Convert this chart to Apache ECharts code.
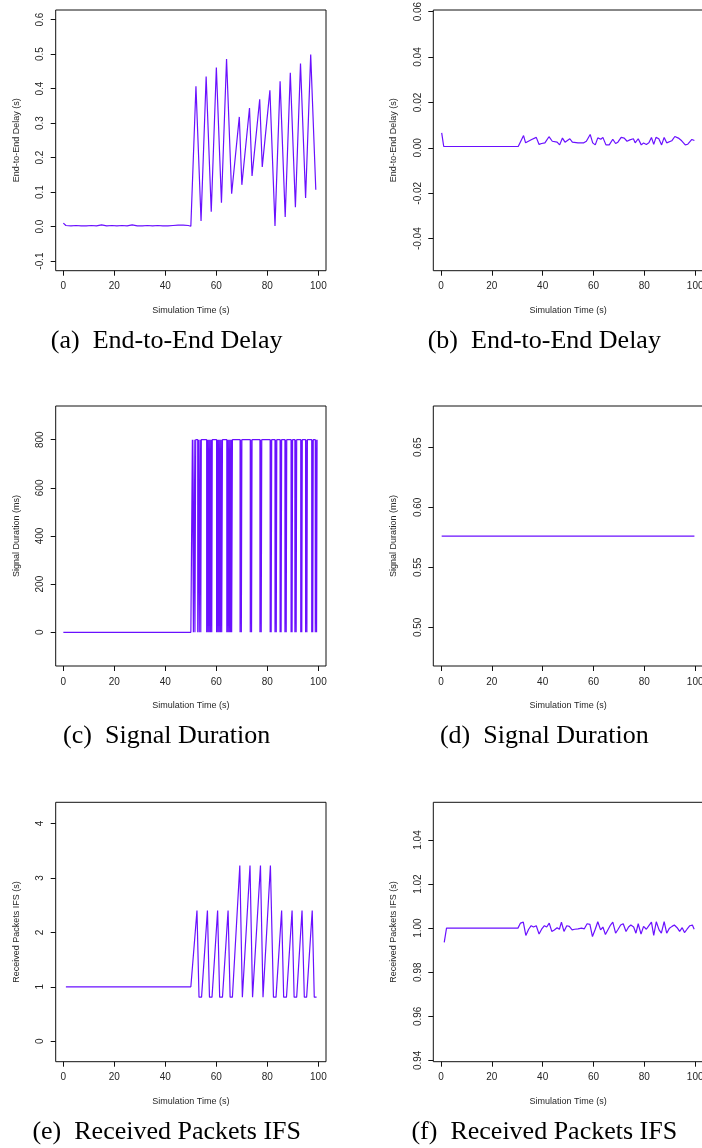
<!DOCTYPE html>
<html>
<head>
<meta charset="utf-8">
<script src="https://cdn.jsdelivr.net/npm/echarts@6/dist/echarts.min.js"></script>
<style>
  html, body { margin: 0; padding: 0; background: #ffffff; }
  #chart { width: 702px; height: 1148px; }
</style>
</head>
<body>
<div id="chart"></div>
<script>
// ---- data -------------------------------------------------------------
// shared x ticks (simulation time, s)
const timeTicks = [0, 20, 40, 60, 80, 100];
const timeTickLabels = ['0', '20', '40', '60', '80', '100'];

// (a) end-to-end delay, attacked run
const delayTimeA = [0, 1, 3, 5, 7, 9, 11, 13, 15, 17, 19, 21, 23, 25, 27, 29, 31, 33, 35, 37, 39, 41, 43, 45, 47, 49, 50,
  52, 54, 56, 58, 60, 62, 64, 66, 69, 70, 73, 74, 77, 78, 81, 83, 85, 87, 89, 91, 93, 95, 97, 99];
const delayA = [0.010, 0.003, 0.002, 0.003, 0.002, 0.002, 0.003, 0.002, 0.005, 0.002, 0.003, 0.002, 0.003, 0.002, 0.005, 0.002, 0.002, 0.003, 0.002, 0.003, 0.002, 0.002, 0.003, 0.004, 0.004, 0.003, 0.001,
  0.407, 0.016, 0.435, 0.043, 0.461, 0.069, 0.486, 0.095, 0.318, 0.121, 0.344, 0.147, 0.369, 0.173, 0.395, 0.002, 0.421, 0.028, 0.446, 0.056, 0.473, 0.083, 0.499, 0.107];
const delayTicksA = [-0.1, 0, 0.1, 0.2, 0.3, 0.4, 0.5, 0.6];
const delayTickLabelsA = ['-0.1', '0.0', '0.1', '0.2', '0.3', '0.4', '0.5', '0.6'];

// (b) end-to-end delay, protected run
const delayTimeB = [0.3, 1.1, 30.4, 32.5, 33.3, 35.7, 37.5, 38.6, 39.6, 40.9, 42.5, 43.8, 45.7, 46.7, 47.8, 48.8, 50.7, 51.7, 53.9, 56.2, 57.2, 58.7, 59.7,
  60.7, 61.7, 62.9, 63.7, 64.9, 66.2, 67.6, 68.7, 69.6, 70.9, 72.1, 73.2, 74.3, 75.7, 76.4, 77.6, 78.8, 79.7, 80.8, 81.8,
  82.8, 83.7, 84.6, 85.7, 86.8, 87.8, 88.8, 90.8, 92.0, 93.4, 94.7, 96.1, 97.1, 98.7, 99.7];
const delayB = [0.0066, 0.0006, 0.0006, 0.0054, 0.0022, 0.0037, 0.0046, 0.0015, 0.0019, 0.0022, 0.0049, 0.0029, 0.0025, 0.0013, 0.0043, 0.0025, 0.0040, 0.0025, 0.0022, 0.0022, 0.0029, 0.0059, 0.0022,
  0.0013, 0.0044, 0.0038, 0.0046, 0.0013, 0.0013, 0.0038, 0.0019, 0.0025, 0.0046, 0.0043, 0.0029, 0.0035, 0.0040, 0.0022, 0.0040, 0.0013, 0.0021, 0.0015, 0.0022,
  0.0046, 0.0015, 0.0046, 0.0040, 0.0013, 0.0046, 0.0022, 0.0031, 0.0050, 0.0043, 0.0031, 0.0013, 0.0016, 0.0037, 0.0032];
const delayTicksB = [-0.04, -0.02, 0, 0.02, 0.04, 0.06];
const delayTickLabelsB = ['-0.04', '-0.02', '0.00', '0.02', '0.04', '0.06'];

// (c) signal duration, attacked run: 800 ms bursts with short drop-outs to 0
const sigLeadTime = [0, 50.0, 50.6];
const sigLead = [0, 0, 800];
const sigDipStart = [51.0, 51.6, 52.7, 53.3, 53.9,
  56.2, 56.7, 57.2, 57.7, 58.2,
  60.1, 60.6, 61.1, 61.6, 62.1,
  64.1, 64.6, 65.1, 65.6, 66.0,
  69.3, 69.8, 73.3, 73.8, 77.1, 77.6,
  81.1, 81.5, 83.0, 83.5, 85.0, 85.4, 86.9, 87.4,
  89.3, 89.7, 90.8, 91.3, 93.1, 93.5, 95.0, 95.5,
  97.4, 97.8, 98.8, 99.3];
const sigDipEnd = [51.3, 51.9, 53.0, 53.6, 54.1,
  56.5, 57.0, 57.5, 58.0, 58.4,
  60.4, 60.9, 61.4, 61.9, 62.4,
  64.4, 64.9, 65.4, 65.9, 66.3,
  69.5, 70.0, 73.5, 74.0, 77.3, 77.8,
  81.3, 81.7, 83.2, 83.7, 85.2, 85.6, 87.1, 87.6,
  89.5, 89.9, 91.0, 91.5, 93.3, 93.7, 95.2, 95.7,
  97.6, 98.0, 99.0, 99.5];
const sigHigh = 800;
const sigLow = 0;
const sigTicksC = [0, 200, 400, 600, 800];
const sigTickLabelsC = ['0', '200', '400', '600', '800'];

// (d) signal duration, protected run
const sigTimeD = [0.3, 99.7];
const sigD = [0.576, 0.576];
const sigTicksD = [0.50, 0.55, 0.60, 0.65];
const sigTickLabelsD = ['0.50', '0.55', '0.60', '0.65'];

// (e) received packets inter-frame spacing, attacked run
const ifsTimeE = [1, 50, 52.4, 53.2, 54.2, 56.5, 57.3, 58.3, 60.5, 61.3, 62.4, 64.6, 65.4, 66.3, 69.2, 70.2, 73.2, 74.2, 77.3, 77.6, 78.3,
  81.2, 81.6, 82.4, 83.4, 85.6, 86.4, 87.5, 89.7, 90.5, 91.5, 93.6, 94.5, 95.4, 97.6, 98.4, 99.3];
const ifsE = [1, 1, 2.4, 0.81, 0.81, 2.4, 0.81, 0.81, 2.4, 0.81, 0.81, 2.4, 0.81, 0.81, 3.23, 0.81, 3.23, 0.81, 3.23, 3.23, 0.81,
  3.23, 3.23, 0.81, 0.81, 2.4, 0.81, 0.81, 2.4, 0.81, 0.81, 2.4, 0.81, 0.81, 2.4, 0.81, 0.81];
const ifsTicksE = [0, 1, 2, 3, 4];
const ifsTickLabelsE = ['0', '1', '2', '3', '4'];

// (f) received packets inter-frame spacing, protected run
const ifsTimeF = [1.3, 2.2, 30.3, 31.3, 32.4, 33.4, 34.5, 35.5, 36.4, 37.5, 38.6, 39.6, 40.7, 41.6, 42.6, 43.6, 44.6, 45.7, 46.6, 47.4, 48.4, 49.5, 50.5,
  51.6, 52.6, 53.9, 55.3, 56.4, 57.5, 58.6, 59.6, 60.7, 61.7, 62.8, 63.7, 64.7, 65.8, 66.7, 67.6, 68.7, 69.7, 70.7, 71.7,
  72.8, 73.8, 74.7, 75.8, 76.7, 77.6, 78.7, 79.7, 80.8, 81.8, 82.8, 83.7, 84.7, 85.8, 86.7, 87.8, 88.8, 89.9, 90.9, 91.8,
  92.9, 93.9, 94.9, 95.8, 96.8, 97.9, 98.9, 99.6];
const ifsF = [0.9935, 1.0, 1.0, 1.0023, 1.0027, 0.9967, 0.9995, 1.0011, 1.0005, 1.0011, 0.9973, 0.9995, 1.0011, 1.0005, 1.0023, 0.9985, 0.9992, 1.0002, 0.9995, 1.0027, 0.9985, 1.0011, 1.0008,
  0.9992, 0.9995, 0.9997, 1.0, 0.9997, 1.0020, 1.0017, 0.9962, 0.9995, 1.0029, 0.9992, 1.0005, 0.9971, 0.9995, 1.0014, 1.0027, 0.9977, 0.9995, 1.0014, 1.0020,
  0.9985, 1.0005, 1.0014, 1.0005, 0.9977, 1.0020, 0.9973, 1.0008, 0.9995, 1.0011, 1.0027, 0.9967, 1.0029, 0.9992, 0.9977, 1.0030, 0.9977, 1.0, 1.0008, 1.0014,
  1.0002, 0.9985, 1.0002, 0.9980, 0.9995, 1.0011, 1.0014, 0.9995];
const ifsTicksF = [0.94, 0.96, 0.98, 1.00, 1.02, 1.04];
const ifsTickLabelsF = ['0.94', '0.96', '0.98', '1.00', '1.02', '1.04'];

const xTitle = 'Simulation Time (s)';
const yTitles = ['End-to-End Delay (s)', 'End-to-End Delay (s)', 'Signal Duration (ms)', 'Signal Duration (ms)',
  'Received Packets IFS (s)', 'Received Packets IFS (s)'];
const captions = ['(a)  End-to-End Delay', '(b)  End-to-End Delay', '(c)  Signal Duration', '(d)  Signal Duration',
  '(e)  Received Packets IFS', '(f)  Received Packets IFS'];

// ---- helpers ------------------------------------------------------------
function pairs(xs, ys) { return xs.map((x, i) => [x, ys[i]]); }

// square wave: lead-in, then each drop-out goes high -> low -> high
function squareWave() {
  const pts = pairs(sigLeadTime, sigLead);
  sigDipStart.forEach((s, i) => {
    const e = sigDipEnd[i];
    pts.push([s, sigHigh], [s, sigLow], [e, sigLow], [e, sigHigh]);
  });
  return pts;
}

// ---- layout (pixels) ------------------------------------------------------
const colLeft = [55.7, 433.3];
const colWidth = [270.3, 269.5];
const rowTop = [10, 406, 802.3];
const rowHeight = [260.7, 260, 259.4];
const captionX = [166.7, 544.3];
const captionY = [341, 736, 1132];

const panels = [
  { data: pairs(delayTimeA, delayA), ymin: -0.128, ymax: 0.628, ticks: delayTicksA, labels: delayTickLabelsA },
  { data: pairs(delayTimeB, delayB), ymin: -0.0541, ymax: 0.0607, ticks: delayTicksB, labels: delayTickLabelsB },
  { data: squareWave(), ymin: -140, ymax: 940, ticks: sigTicksC, labels: sigTickLabelsC },
  { data: pairs(sigTimeD, sigD), ymin: 0.4678, ymax: 0.6844, ticks: sigTicksD, labels: sigTickLabelsD },
  { data: pairs(ifsTimeE, ifsE), ymin: -0.376, ymax: 4.39, ticks: ifsTicksE, labels: ifsTickLabelsE },
  { data: pairs(ifsTimeF, ifsF), ymin: 0.9394, ymax: 1.0571, ticks: ifsTicksF, labels: ifsTickLabelsF }
];

const sans = '"Liberation Sans", Arial, Helvetica, sans-serif';
const serif = '"Liberation Serif", "Times New Roman", Times, serif';
const inkColor = '#262626';
const lineColor = '#6a10ff';

function labelFor(ticks, labels) {
  return function (v) {
    for (let i = 0; i < ticks.length; i++) {
      if (Math.abs(ticks[i] - v) < 1e-9) return labels[i];
    }
    return '';
  };
}

const grid = [], xAxis = [], yAxis = [], series = [], graphic = [];

panels.forEach((p, i) => {
  const col = i % 2, row = Math.floor(i / 2);
  grid.push({
    left: colLeft[col], top: rowTop[row], width: colWidth[col], height: rowHeight[row],
    show: true, borderColor: '#111', borderWidth: 1, backgroundColor: 'transparent',
    containLabel: false, outerBoundsMode: 'none'
  });
  xAxis.push({
    type: 'value', gridIndex: i, min: -3, max: 103, position: 'bottom',
    name: xTitle, nameLocation: 'middle', nameGap: 35,
    nameTextStyle: { fontFamily: sans, fontSize: 9, color: inkColor },
    axisLine: { show: false, onZero: false },
    axisTick: { show: true, length: 5, customValues: timeTicks, lineStyle: { color: '#111', width: 1 } },
    axisLabel: { customValues: timeTicks, formatter: labelFor(timeTicks, timeTickLabels),
      margin: 11, fontFamily: sans, fontSize: 10, color: inkColor },
    splitLine: { show: false }
  });
  yAxis.push({
    type: 'value', gridIndex: i, min: p.ymin, max: p.ymax, position: 'left',
    name: yTitles[i], nameLocation: 'middle', nameRotate: 90, nameGap: 35,
    nameTextStyle: { fontFamily: sans, fontSize: 9, color: inkColor },
    axisLine: { show: false, onZero: false },
    axisTick: { show: true, length: 5, customValues: p.ticks, lineStyle: { color: '#111', width: 1 } },
    axisLabel: { customValues: p.ticks, formatter: labelFor(p.ticks, p.labels), rotate: 90,
      margin: 10, fontFamily: sans, fontSize: 10, color: inkColor },
    splitLine: { show: false }
  });
  series.push({
    type: 'line', xAxisIndex: i, yAxisIndex: i, data: p.data,
    showSymbol: false, symbol: 'none', smooth: false, clip: true,
    lineStyle: { color: lineColor, width: 1.2 },
    emphasis: { disabled: true }
  });
  graphic.push({
    type: 'text', x: captionX[col], y: captionY[row], silent: true,
    style: { text: captions[i], font: '26px ' + serif, fill: '#000',
      textAlign: 'center', textVerticalAlign: 'middle' }
  });
});

const chart = echarts.init(document.getElementById('chart'), null, { renderer: 'canvas', width: 702, height: 1148 });
chart.setOption({
  animation: false,
  backgroundColor: '#ffffff',
  grid, xAxis, yAxis, series, graphic,
  tooltip: { show: false }
});
</script>
</body>
</html>
